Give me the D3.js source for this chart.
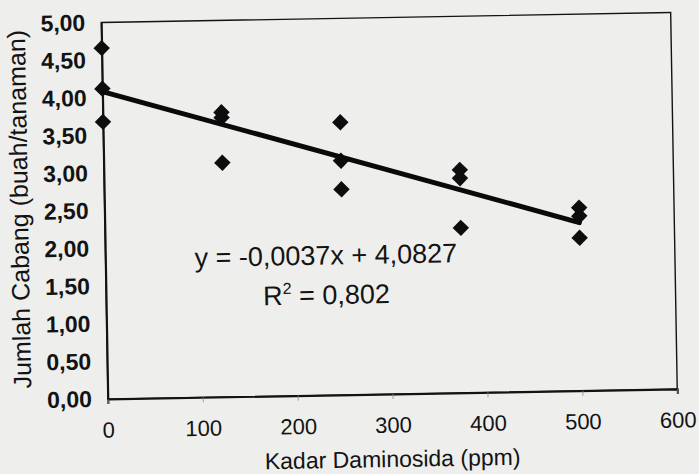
<!DOCTYPE html>
<html>
<head>
<meta charset="utf-8">
<script src="https://cdn.jsdelivr.net/npm/d3@7"></script>
<style>
  html, body { margin: 0; padding: 0; background: #efefed; }
  svg { display: block; }
</style>
</head>
<body>
<script>
// ---- data ----
const doses = [0, 125, 250, 375, 500];          // Kadar Daminosida (ppm)
const rep1  = [4.66, 3.78, 3.62, 2.96, 2.43];   // Jumlah Cabang, ulangan 1
const rep2  = [4.12, 3.71, 3.11, 2.85, 2.32];   // ulangan 2
const rep3  = [3.68, 3.11, 2.73, 2.19, 2.03];   // ulangan 3
const xTicks = [0, 100, 200, 300, 400, 500, 600];
const yTicks = [0, 0.5, 1, 1.5, 2, 2.5, 3, 3.5, 4, 4.5, 5];
const trendSlope = -0.0037;
const trendIntercept = 4.0827;
const trendRange = [0, 500];
const eqText = "y = -0,0037x + 4,0827";
const r2Value = "0,802";
const xTitle = "Kadar Daminosida (ppm)";
const yTitle = "Jumlah Cabang (buah/tanaman)";

const W = 699, H = 474;
const ink = "#131313";
const font = "'Liberation Sans', Arial, sans-serif";

const svg = d3.select("body").append("svg").attr("width", W).attr("height", H);
svg.append("rect").attr("width", W).attr("height", H).attr("fill", "#eeeeec");

// the scanned figure is slightly tilted
const g = svg.append("g").attr("transform", "rotate(-1,390,206)");

const x = d3.scaleLinear().domain([0, 600]).range([104.5, 674]);
const y = d3.scaleLinear().domain([0, 5]).range([394, 17.5]);

// plot frame
g.append("rect")
  .attr("x", x(0)).attr("y", y(5))
  .attr("width", x(600) - x(0)).attr("height", y(0) - y(5))
  .attr("fill", "none").attr("stroke", ink).attr("stroke-width", 1.4);

// x axis
const xa = g.append("g").attr("transform", `translate(0,${y(0)})`)
  .call(d3.axisBottom(x).tickValues(xTicks).tickSize(5).tickPadding(18).tickFormat(d3.format("d")));
xa.select(".domain").attr("stroke", ink).attr("stroke-width", 2);
xa.selectAll(".tick line").attr("stroke", "#888").attr("stroke-width", 0.8);
xa.selectAll(".tick text").attr("fill", ink).attr("font-family", font).attr("font-size", 22);

// y axis
const ya = g.append("g").attr("transform", `translate(${x(0)},0)`)
  .call(d3.axisLeft(y).tickValues(yTicks).tickSize(0).tickPadding(16)
    .tickFormat(d => d3.format(".2f")(d).replace(".", ",")));
ya.select(".domain").attr("stroke", ink).attr("stroke-width", 2);
ya.selectAll(".tick text").attr("fill", ink).attr("font-family", font)
  .attr("font-size", 23).attr("font-weight", "bold");

// axis titles
g.append("text")
  .attr("x", (x(0) + x(600)) / 2 - 1).attr("y", 467)
  .attr("text-anchor", "middle").attr("font-family", font).attr("font-size", 23)
  .attr("fill", ink).text(xTitle);

g.append("text")
  .attr("transform", `translate(28,${(y(0) + y(5)) / 2 - 3}) rotate(-90)`)
  .attr("text-anchor", "middle").attr("font-family", font).attr("font-size", 25)
  .attr("fill", ink).text(yTitle);

// points
const pts = [];
doses.forEach((d, i) => {
  pts.push({ x: d, y: rep1[i] }, { x: d, y: rep2[i] }, { x: d, y: rep3[i] });
});
const diamond = d3.symbol().type(d3.symbolSquare).size(135);
g.append("g").selectAll("path").data(pts).join("path")
  .attr("d", diamond)
  .attr("transform", d => `translate(${x(d.x)},${y(d.y)}) rotate(45)`)
  .attr("fill", "#0d0d0d");

// trend line
const line = d3.line().x(d => x(d)).y(d => y(trendSlope * d + trendIntercept));
g.append("path").datum(trendRange).attr("d", line)
  .attr("fill", "none").attr("stroke", "#0a0a0a").attr("stroke-width", 5)
  .attr("stroke-linecap", "round");

// equation labels
const eqX = 325;
g.append("text").attr("x", eqX).attr("y", 263.5)
  .attr("text-anchor", "middle").attr("font-family", font).attr("font-size", 27)
  .attr("fill", ink).text(eqText);
const r2 = g.append("text").attr("x", eqX).attr("y", 303)
  .attr("text-anchor", "middle").attr("font-family", font).attr("font-size", 27)
  .attr("fill", ink);
r2.append("tspan").text("R");
r2.append("tspan").attr("font-size", 16).attr("dy", -11).text("2");
r2.append("tspan").attr("dy", 11).text(" = " + r2Value);
</script>
</body>
</html>
